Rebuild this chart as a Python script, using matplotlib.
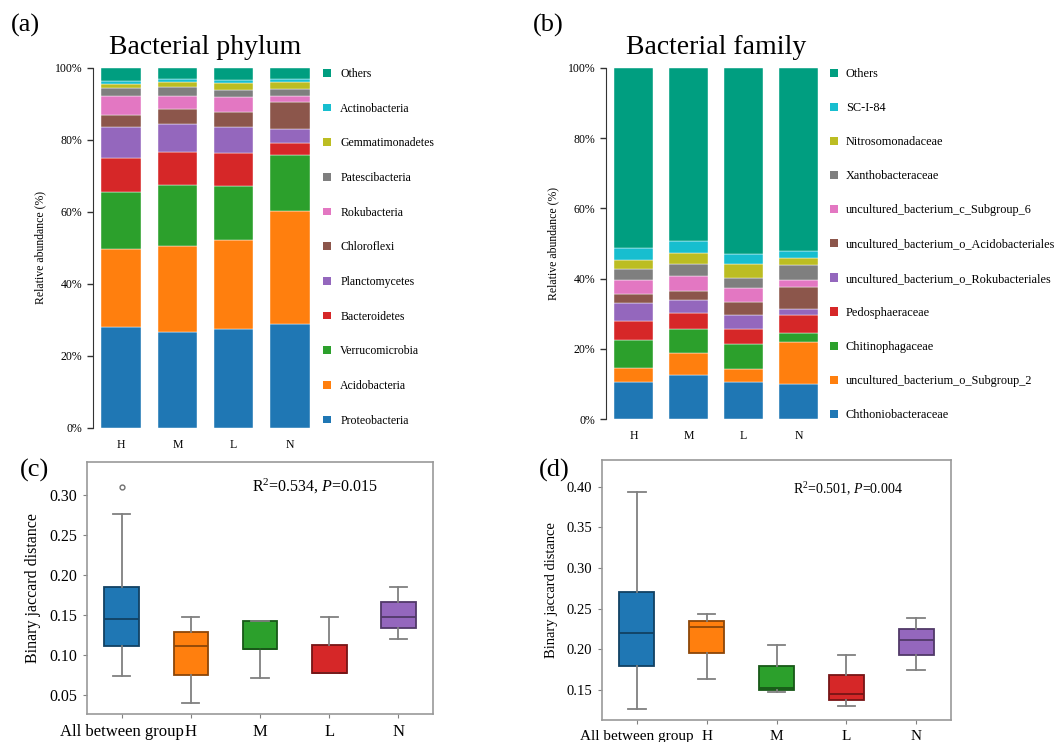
import numpy as np
import matplotlib
matplotlib.use("Agg")
import matplotlib.pyplot as plt
from matplotlib.patches import Patch
from matplotlib.colors import to_rgb

plt.rcParams['font.family'] = ['Liberation Serif', 'DejaVu Serif']
plt.rcParams['mathtext.fontset'] = 'custom'
plt.rcParams['mathtext.rm'] = 'Liberation Serif'
plt.rcParams['mathtext.it'] = 'Liberation Serif:italic'

# ---- data ----
groups = ['H', 'M', 'L', 'N']

# stacked from bottom to top
phyla = ['Proteobacteria', 'Acidobacteria', 'Verrucomicrobia', 'Bacteroidetes',
         'Planctomycetes', 'Chloroflexi', 'Rokubacteria', 'Patescibacteria',
         'Gemmatimonadetes', 'Actinobacteria', 'Others']
phylum_H = [28.1, 21.6, 15.9, 9.3, 8.8, 3.3, 5.2, 2.2, 1.2, 0.9, 3.5]
phylum_M = [26.6, 24.0, 16.8, 9.2, 7.9, 4.1, 3.7, 2.4, 1.5, 0.7, 3.1]
phylum_L = [27.5, 24.6, 15.0, 9.2, 7.4, 4.1, 4.2, 2.0, 1.7, 1.0, 3.3]
phylum_N = [28.8, 31.4, 15.6, 3.4, 3.9, 7.5, 1.6, 2.1, 1.9, 0.7, 3.1]

families = ['Chthoniobacteraceae', 'uncultured_bacterium_o_Subgroup_2',
            'Chitinophagaceae', 'Pedosphaeraceae',
            'uncultured_bacterium_o_Rokubacteriales',
            'uncultured_bacterium_o_Acidobacteriales',
            'uncultured_bacterium_c_Subgroup_6', 'Xanthobacteraceae',
            'Nitrosomonadaceae', 'SC-I-84', 'Others']
family_H = [10.6, 3.9, 8.0, 5.3, 5.2, 2.5, 4.1, 3.1, 2.7, 3.3, 51.3]
family_M = [12.5, 6.2, 6.9, 4.5, 3.8, 2.7, 4.1, 3.5, 3.0, 3.5, 49.3]
family_L = [10.6, 3.7, 7.0, 4.2, 4.0, 3.8, 4.1, 2.9, 3.8, 2.9, 53.0]
family_N = [10.0, 11.8, 2.6, 5.1, 1.7, 6.3, 2.1, 4.4, 1.9, 1.9, 52.2]

taxa_colors = ['#1f77b4', '#ff7f0e', '#2ca02c', '#d62728', '#9467bd', '#8c564b',
               '#e377c2', '#7f7f7f', '#bcbd22', '#17becf', '#009e80']

box_labels = ['All between group', 'H', 'M', 'L', 'N']
box_colors = ['#1f77b4', '#ff7f0e', '#2ca02c', '#d62728', '#9467bd']

# whislo, q1, med, q3, whishi
phylum_dist = [[0.074, 0.111, 0.145, 0.185, 0.276],
               [0.040, 0.075, 0.111, 0.129, 0.148],
               [0.071, 0.107, 0.107, 0.142, 0.142],
               [0.077, 0.077, 0.077, 0.112, 0.148],
               [0.120, 0.134, 0.148, 0.166, 0.185]]
phylum_fliers = [[0.310], [], [], [], []]
family_dist = [[0.127, 0.180, 0.220, 0.270, 0.393],
               [0.164, 0.196, 0.228, 0.235, 0.243],
               [0.147, 0.150, 0.153, 0.179, 0.205],
               [0.130, 0.138, 0.145, 0.168, 0.193],
               [0.174, 0.193, 0.212, 0.225, 0.239]]
family_fliers = [[], [], [], [], []]

W, H = 1057, 742
fig = plt.figure(figsize=(W / 100, H / 100), dpi=100)


def px_axes(l, t, r, b):
    return fig.add_axes([l / W, 1 - b / H, (r - l) / W, (b - t) / H])


def stacked(ax, cols, names, title, leg_x, leg_top, spacing, leg_fs, pad):
    vals = np.array(cols).T  # taxa x groups
    x = np.arange(len(groups))
    bottom = np.zeros(len(groups))
    for i, row in enumerate(vals):
        ax.bar(x, row, 0.7, bottom=bottom, color=taxa_colors[i],
               edgecolor='white', linewidth=0.3)
        bottom += row
    ax.set_xlim(-0.5, len(groups) - 0.5)
    ax.set_ylim(0, 100)
    ax.set_yticks(np.arange(0, 101, 20))
    ax.set_yticklabels(['%d%%' % v for v in range(0, 101, 20)], fontsize=8.5)
    ax.set_xticks(x)
    ax.set_xticklabels(groups, fontsize=8.5)
    ax.tick_params(axis='x', length=0, pad=8)
    ax.tick_params(axis='y', length=4, width=1, color='#333333')
    for s in ['top', 'right', 'bottom']:
        ax.spines[s].set_visible(False)
    ax.spines['left'].set_color('#333333')
    ax.set_ylabel('Relative abundance (%)', fontsize=8.5, labelpad=6)
    ax.set_title(title, fontsize=20, pad=10)
    handles = [Patch(facecolor=taxa_colors[i], label=names[i])
               for i in range(len(names))][::-1]
    fig.legend(handles=handles, loc='upper left', frameon=False,
               bbox_to_anchor=(leg_x / W, 1 - leg_top / H), borderpad=0,
               borderaxespad=0, fontsize=leg_fs, handlelength=0.65,
               handleheight=0.65, handletextpad=pad, labelspacing=spacing)


def boxes(ax, dist, fliers, ylim, yticks, fs, note, note_xy, note_fs):
    stats = []
    for d, f in zip(dist, fliers):
        stats.append(dict(whislo=d[0], q1=d[1], med=d[2], q3=d[3],
                          whishi=d[4], fliers=f))
    art = ax.bxp(stats, positions=np.arange(len(stats)), widths=0.5,
                 patch_artist=True, showfliers=True,
                 whiskerprops=dict(color='#808080', linewidth=1.3),
                 capprops=dict(color='#808080', linewidth=1.3),
                 flierprops=dict(marker='o', markersize=3.5,
                                 markerfacecolor='none',
                                 markeredgecolor='#707070'))
    for i, b in enumerate(art['boxes']):
        dark = tuple(c * 0.55 for c in to_rgb(box_colors[i]))
        b.set_facecolor(box_colors[i])
        b.set_edgecolor(dark)
        b.set_linewidth(1.3)
        art['medians'][i].set_color(dark)
        art['medians'][i].set_linewidth(1.3)
    ax.set_xlim(-0.5, len(stats) - 0.5)
    ax.set_ylim(*ylim)
    ax.set_yticks(yticks)
    ax.set_yticklabels(['%.2f' % v for v in yticks], fontsize=fs)
    ax.set_xticks(np.arange(len(stats)))
    ax.set_xticklabels(box_labels, fontsize=fs + 0.5)
    ax.tick_params(length=3, color='#808080', pad=4)
    for s in ax.spines.values():
        s.set_color('#999999')
        s.set_linewidth(1.2)
    ax.set_ylabel('Binary jaccard distance', fontsize=fs, labelpad=6)
    ax.text(note_xy[0], note_xy[1], note, transform=ax.transAxes,
            fontsize=note_fs, ha='left', va='center')


ax_a = px_axes(93, 68, 318, 428)
stacked(ax_a, [phylum_H, phylum_M, phylum_L, phylum_N], phyla,
        'Bacterial phylum', 323, 68, 1.92, 8.5, 0.8)

ax_b = px_axes(606, 68, 826, 419)
stacked(ax_b, [family_H, family_M, family_L, family_N], families,
        'Bacterial family', 830, 68, 1.81, 8.8, 0.65)

ax_c = px_axes(87, 462, 433, 714)
boxes(ax_c, phylum_dist, phylum_fliers, (0.0258, 0.3417),
      [0.05, 0.10, 0.15, 0.20, 0.25, 0.30], 11.5,
      r'R$^{2}$=0.534, $\mathit{P}$=0.015', ((252 - 87) / 346, 1 - 24 / 252), 11.5)

ax_d = px_axes(602, 460, 951, 720)
boxes(ax_d, family_dist, family_fliers, (0.1131, 0.4328),
      [0.15, 0.20, 0.25, 0.30, 0.35, 0.40], 10.5,
      r'R$^{2}$=0.501, $\mathit{P}$=0.004', ((793 - 602) / 349, 1 - 29 / 260), 10)

for lab, x, y in [('(a)', 11, 25), ('(b)', 533, 25), ('(c)', 20, 470), ('(d)', 539, 470)]:
    fig.text(x / W, 1 - y / H, lab, fontsize=19, ha='left', va='center')

fig.savefig('out.png', dpi=100)
